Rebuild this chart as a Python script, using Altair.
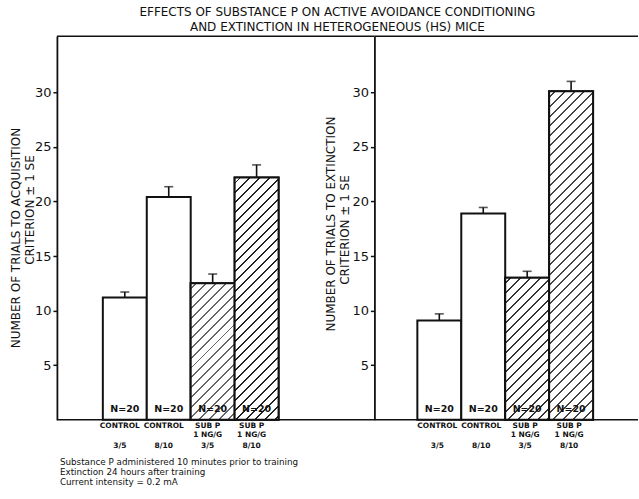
import math
import altair as alt
import pandas as pd

# ---------------- data ----------------
keys = ["CONTROL 3/5", "CONTROL 8/10", "SUB P 3/5", "SUB P 8/10"]
label_line1 = ["CONTROL", "CONTROL", "SUB P", "SUB P"]
label_line2 = ["", "", "1 NG/G", "1 NG/G"]
label_line3 = ["3/5", "8/10", "3/5", "8/10"]
n_text = ["N=20", "N=20", "N=20", "N=20"]
acq_mean = [11.2, 20.4, 12.5, 22.2]
acq_se = [0.5, 0.95, 0.85, 1.15]
ext_mean = [9.1, 18.9, 13.0, 30.1]
ext_se = [0.6, 0.55, 0.6, 0.9]
y_ticks = [5, 10, 15, 20, 25, 30]
title_lines = ["EFFECTS OF SUBSTANCE P ON ACTIVE AVOIDANCE CONDITIONING",
               "AND EXTINCTION IN HETEROGENEOUS (HS) MICE"]
acq_title = ["NUMBER OF TRIALS TO ACQUISITION", "CRITERION \u00b1 1 SE"]
ext_title = ["NUMBER OF TRIALS TO EXTINCTION", "CRITERION \u00b1 1 SE"]
footnote = ["Substance P administered 10 minutes prior to training",
            "Extinction 24 hours after training",
            "Current intensity = 0.2 mA"]

# ---------------- style ----------------
INK = "#111111"
FONT = "DejaVu Sans"
H = 384
YMAX = 35.13
W1 = 318
W2 = 264
STEP = 44


def hatch_gradient(value, w, color, spacing=7.0, lw=1.4):
    h = value * H / YMAX
    r = w / h
    t = (r + 1) / (r * r + 1)
    L = (w + h) / math.sqrt(2)
    stops = [{"offset": 0, "color": "white"}]
    k = 0
    while True:
        a = (k * spacing + spacing * 0.5) / L
        b = a + lw / L
        if b >= 1:
            break
        stops += [{"offset": a, "color": "white"}, {"offset": a, "color": color},
                  {"offset": b, "color": color}, {"offset": b, "color": "white"}]
        k += 1
    stops.append({"offset": 1, "color": "white"})
    return {"gradient": "linear", "x1": 0, "y1": 0, "x2": t * r, "y2": t,
            "stops": stops}


def one(text):
    return pd.DataFrame({"t": [text]})


def panel(mean, se, width, x_start, ytitle, title_x, title_y, title_size,
          hatch_colors, with_footnote, lab_dx):
    df = pd.DataFrame({
        "key": keys, "l1": label_line1, "l2": label_line2, "l3": label_line3,
        "n": n_text, "mean": mean, "top": [m + s for m, s in zip(mean, se)],
    })
    yaxis = alt.Axis(values=y_ticks, title=None, grid=False, tickSize=4,
                     tickWidth=1.5, tickColor=INK, domainColor=INK, domainWidth=1.8,
                     labelFont=FONT, labelFontSize=13, labelColor=INK,
                     labelPadding=2)
    x = alt.X("key:N", sort=keys, axis=None,
              scale=alt.Scale(paddingInner=0, paddingOuter=0,
                              range=[x_start, x_start + 4 * STEP]))
    yscale = alt.Scale(domain=[0, YMAX], nice=False, zero=True)
    base = alt.Chart(df)
    bars = base.mark_bar(fill="white", stroke=INK, strokeWidth=2).encode(
        x=x, y=alt.Y("mean:Q", scale=yscale, axis=yaxis))
    layers = [bars]
    for i, col in hatch_colors.items():
        layers.append(base.transform_filter(alt.datum.key == keys[i]).mark_bar(
            fill=hatch_gradient(mean[i], STEP, col), stroke=INK, strokeWidth=2
        ).encode(x=x, y=alt.Y("mean:Q", scale=yscale, axis=yaxis)))
    layers.append(base.mark_rule(color=INK, strokeWidth=1.6).encode(
        x=x, y=alt.Y("mean:Q", scale=yscale, axis=yaxis), y2="top:Q"))
    layers.append(base.mark_tick(color=INK, thickness=1.6, size=9,
                                 orient="horizontal").encode(
        x=x, y=alt.Y("top:Q", scale=yscale, axis=yaxis)))
    layers.append(base.mark_text(font=FONT, fontSize=9.5, fontWeight="bold",
                                 color=INK, baseline="middle").encode(
        x=x, y=alt.value(H - 11), text="n:N"))
    for field, off in (("l1", 6), ("l2", 15), ("l3", 26)):
        layers.append(base.mark_text(font=FONT, fontSize=7.5, fontWeight="bold",
                                     color=INK, baseline="middle", dx=lab_dx).encode(
            x=x, y=alt.value(H + off), text=f"{field}:N"))
    # frame lines
    frame = alt.Chart(one("")).mark_rule(color=INK, strokeWidth=1.6)
    layers.append(frame.encode(x=alt.value(0), x2=alt.value(width), y=alt.value(0)))
    layers.append(frame.encode(x=alt.value(0), x2=alt.value(width), y=alt.value(H)))
    # axis title (two separate lines)
    for line, dxv, yc in zip(ytitle, title_x, title_y):
        layers.append(alt.Chart(one(line)).mark_text(
            font=FONT, fontSize=title_size, color=INK, angle=270,
            baseline="middle", align="center").encode(
            x=alt.value(dxv), y=alt.value(yc), text="t:N"))
    if with_footnote:
        for j, line in enumerate(footnote):
            layers.append(alt.Chart(one(line)).mark_text(
                font=FONT, fontSize=8.8, color=INK, align="left",
                baseline="middle").encode(
                x=alt.value(3), y=alt.value(H + 42 + 10 * j), text="t:N"))
    return alt.layer(*layers).properties(width=width, height=H)


left = panel(acq_mean, acq_se, W1, 46, acq_title, [-41, -27],
             [202, 174], 12, {2: "#666666", 3: "#222222"}, True, -5)
right = panel(ext_mean, ext_se, W2, 43, ext_title, [-43, -29],
              [188, 194], 12, {2: "#333333", 3: "#444444"}, False, -2)

chart = alt.hconcat(left, right, spacing=0, bounds="flush").properties(
    title=alt.TitleParams(title_lines, font=FONT, fontSize=12, fontWeight="normal",
                          color=INK, anchor="middle", offset=2, lineHeight=14.5,
                          dx=13)
).configure_view(stroke=None).properties(
    padding={"left": 10, "right": 0, "top": 5, "bottom": 0},
    background="white")

chart.save("out.html", embed_options={"renderer": "svg", "actions": False})
